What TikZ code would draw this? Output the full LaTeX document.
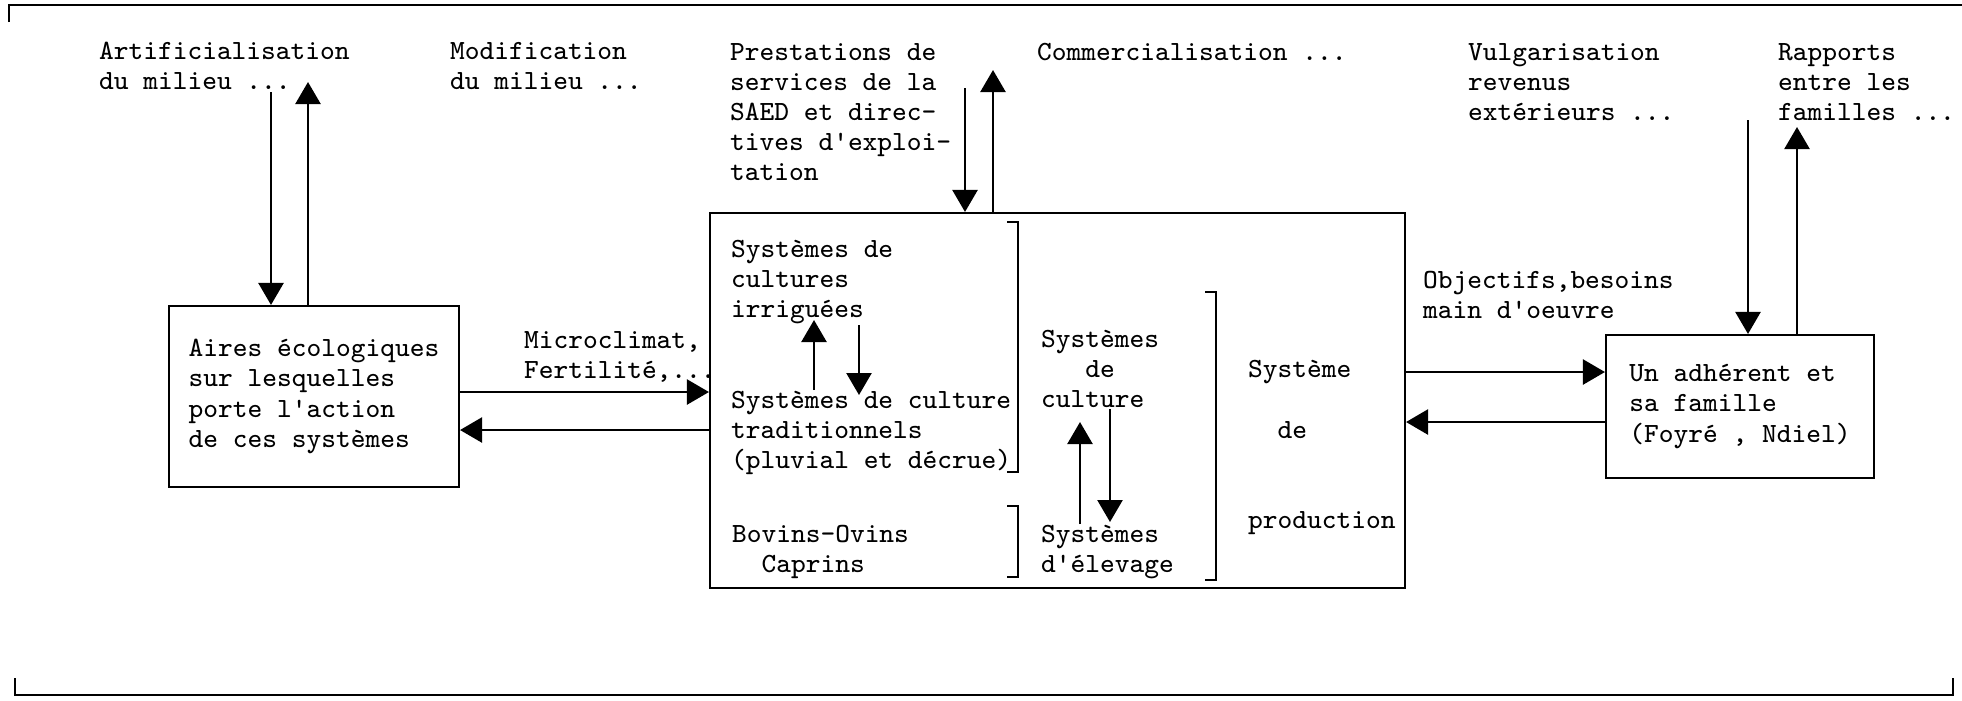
\documentclass[tikz,border=0pt]{standalone}
\usepackage{tikz}
\usetikzlibrary{arrows.meta}

\tikzset{
  lbl/.style={anchor=north west, inner sep=0pt, align=left},
  bloc/.style={draw, line width=0.6pt, align=left, inner sep=0pt},
  flow/.style={-{Triangle[length=2.2mm, width=2.5mm]}, line width=0.7pt},
}

\begin{document}
\begin{tikzpicture}[font=\fontsize{7.9}{8.6}\selectfont\ttfamily, line width=0.6pt]
\useasboundingbox (0,0) rectangle (19.62,-7.00);
% cadre
\draw (0.09,-0.22) -- (0.09,-0.05) -- (19.62,-0.05);
\draw (0.15,-6.78) -- (0.15,-6.95) -- (19.53,-6.95) -- (19.53,-6.78);

% blocs
\node[bloc, minimum width=2.90cm, minimum height=1.81cm] (aires) at (3.14,-3.965) {Aires écologiques\\sur lesquelles\\porte l'action\\de ces systèmes};
\node[bloc, minimum width=6.95cm, minimum height=3.75cm] (sys) at (10.575,-4.005) {};
\node[bloc, minimum width=2.68cm, minimum height=1.43cm] (fam) at (17.40,-4.065) {Un adhérent et\\sa famille\\(Foyré , Ndiel)};

% textes du haut
\node[lbl] (artif) at (0.98,-0.41) {Artificialisation\\du milieu ...};
\node[lbl] (modif) at (4.49,-0.41) {Modification\\du milieu ...};
\node[lbl] (saed) at (7.29,-0.42) {Prestations de\\services de la\\SAED et direc-\\tives d'exploi-\\tation};
\node[lbl] (comm) at (10.36,-0.42) {Commercialisation ...};
\node[lbl] (vulg) at (14.67,-0.42) {Vulgarisation\\revenus\\extérieurs ...};
\node[lbl] (rapp) at (17.77,-0.42) {Rapports\\entre les\\familles ...};
\node[lbl] (micro) at (5.23,-3.30) {Microclimat,\\Fertilité,...};
\node[lbl] (obj) at (14.22,-2.70) {Objectifs,besoins\\main d'oeuvre};

% textes du systeme
\node[lbl] (irrig) at (7.30,-2.39) {Systèmes de\\cultures\\irriguées};
\node[lbl] (trad) at (7.30,-3.90) {Systèmes de culture\\traditionnels\\(pluvial et décrue)};
\node[lbl] (bov) at (7.31,-5.24) {Bovins-Ovins\\\phantom{Bo}Caprins};
\node[lbl] (sculture) at (10.40,-3.29) {Systèmes\\\phantom{Sys}de\\culture};
\node[lbl] (selev) at (10.40,-5.24) {Systèmes\\d'élevage};
\node[lbl] (sprod) at (12.47,-3.59) {Système\\[0.31cm]\phantom{Sy}de\\[0.60cm]production};

% crochets
\draw (10.07,-2.22) -- (10.18,-2.22) -- (10.18,-4.72) -- (10.07,-4.72);
\draw (10.07,-5.06) -- (10.18,-5.06) -- (10.18,-5.77) -- (10.07,-5.77);
\draw (12.05,-2.92) -- (12.16,-2.92) -- (12.16,-5.80) -- (12.05,-5.80);

% fleches verticales
\coordinate (artif-in) at (2.71,-0.92);
\coordinate (artif-out) at (3.08,-0.82);
\draw[flow] (artif-in) -- (artif-in |- aires.north);
\draw[flow] (artif-out |- aires.north) -- (artif-out);
\coordinate (saed-in) at (9.65,-0.88);
\coordinate (saed-out) at (9.93,-0.70);
\draw[flow] (saed-in) -- (saed-in |- sys.north);
\draw[flow] (saed-out |- sys.north) -- (saed-out);
\coordinate (rapp-in) at (17.48,-1.20);
\coordinate (rapp-out) at (17.97,-1.27);
\draw[flow] (rapp-in) -- (rapp-in |- fam.north);
\draw[flow] (rapp-out |- fam.north) -- (rapp-out);

% fleches internes
\coordinate (irr-up) at (8.14,-3.20);
\coordinate (irr-dn) at (8.59,-3.95);
\draw[flow] (irr-up |- trad.north) -- (irr-up);
\draw[flow] (irr-dn |- irrig.south) -- (irr-dn);
\coordinate (cult-up) at (10.80,-4.22);
\coordinate (cult-dn) at (11.10,-5.22);
\draw[flow] (cult-up |- selev.north) -- (cult-up);
\draw[flow] (cult-dn |- sculture.south) -- (cult-dn);

% fleches horizontales
\draw[flow] ([yshift=0.045cm]aires.east) -- ([yshift=0.045cm]aires.east -| sys.west);
\draw[flow] ([yshift=-0.335cm]aires.east -| sys.west) -- ([yshift=-0.335cm]aires.east);
\draw[flow] ([yshift=0.345cm]fam.west -| sys.east) -- ([yshift=0.345cm]fam.west);
\draw[flow] ([yshift=-0.155cm]fam.west) -- ([yshift=-0.155cm]fam.west -| sys.east);
\end{tikzpicture}
\end{document}
